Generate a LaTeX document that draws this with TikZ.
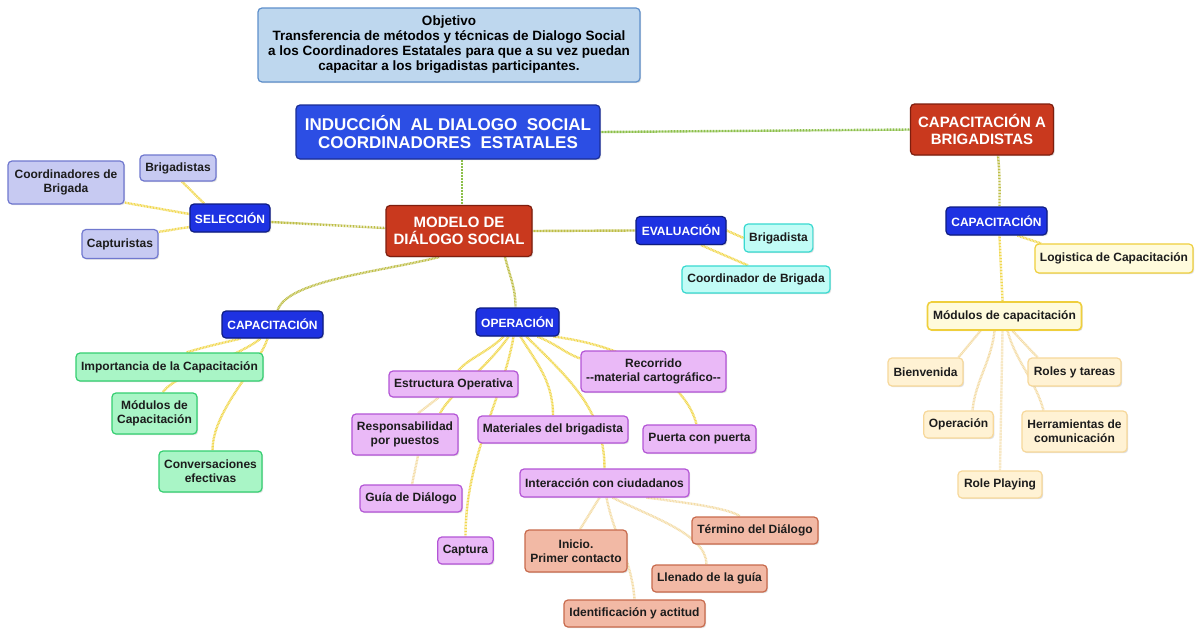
\documentclass[tikz,border=0pt]{standalone}
\usepackage{fontspec}
\setmainfont{Liberation Sans}
\usepackage{xcolor}
\usepackage{tikz}
\usetikzlibrary{shadows}
\definecolor{MapInk}{RGB}{28, 28, 28}
\definecolor{MapGoalFill}{RGB}{190, 215, 238}
\definecolor{MapGoalLine}{RGB}{94, 143, 203}
\definecolor{MapRoot}{RGB}{44, 78, 228}
\definecolor{MapRootLine}{RGB}{26, 45, 150}
\definecolor{MapTopic}{RGB}{30, 50, 226}
\definecolor{MapTopicLine}{RGB}{14, 28, 130}
\definecolor{MapRed}{RGB}{201, 57, 30}
\definecolor{MapRedLine}{RGB}{126, 30, 14}
\definecolor{MapLilaFill}{RGB}{199, 202, 242}
\definecolor{MapLilaLine}{RGB}{112, 120, 207}
\definecolor{MapCyanFill}{RGB}{193, 252, 246}
\definecolor{MapCyanLine}{RGB}{55, 217, 208}
\definecolor{MapGreenFill}{RGB}{169, 245, 198}
\definecolor{MapGreenLine}{RGB}{52, 207, 112}
\definecolor{MapPurpleFill}{RGB}{234, 185, 247}
\definecolor{MapPurpleLine}{RGB}{179, 85, 214}
\definecolor{MapSalmonFill}{RGB}{242, 185, 165}
\definecolor{MapSalmonLine}{RGB}{200, 106, 76}
\definecolor{MapYellowFill}{RGB}{255, 251, 220}
\definecolor{MapYellowLine}{RGB}{239, 207, 60}
\definecolor{MapCreamFill}{RGB}{255, 242, 212}
\definecolor{MapCreamLine}{RGB}{247, 216, 154}
\definecolor{MapGreenLink}{RGB}{140, 192, 74}
\definecolor{MapOliveLink}{RGB}{190, 190, 70}
\definecolor{MapYellowLink}{RGB}{241, 216, 79}
\definecolor{MapTanLink}{RGB}{244, 220, 166}
\pgfdeclarelayer{paper}
\pgfdeclarelayer{links}
\pgfsetlayers{paper,links,main}
\tikzset{
  nodebox/.style={rounded corners=4pt, line width=1.2pt, align=center,
    inner xsep=5pt, inner ysep=3pt, minimum height=27pt, text=MapInk,
    font=\bfseries\fontsize{12}{14}\selectfont,
    drop shadow={shadow xshift=1.2pt, shadow yshift=-1.2pt, opacity=0.25}},
  goalbox/.style={nodebox, fill=MapGoalFill, draw=MapGoalLine, text=black,
    font=\bfseries\fontsize{13.5}{15}\selectfont},
  rootbox/.style={nodebox, fill=MapRoot, draw=MapRootLine, text=white,
    font=\bfseries\fontsize{17}{18.5}\selectfont},
  mainbox/.style={nodebox, fill=MapRed, draw=MapRedLine, text=white,
    font=\bfseries\fontsize{15}{17.5}\selectfont},
  topicbox/.style={nodebox, fill=MapTopic, draw=MapTopicLine, text=white},
  lilabox/.style={nodebox, fill=MapLilaFill, draw=MapLilaLine},
  cyanbox/.style={nodebox, fill=MapCyanFill, draw=MapCyanLine},
  greenbox/.style={nodebox, fill=MapGreenFill, draw=MapGreenLine},
  purplebox/.style={nodebox, fill=MapPurpleFill, draw=MapPurpleLine},
  salmonbox/.style={nodebox, fill=MapSalmonFill, draw=MapSalmonLine},
  yellowbox/.style={nodebox, fill=MapYellowFill, draw=MapYellowLine},
  creambox/.style={nodebox, fill=MapCreamFill, draw=MapCreamLine},
  link/.style={line width=2.4pt, dash pattern=on 0.9pt off 0.6pt}
}

\begin{document}
\begin{tikzpicture}[x=1pt, y=-1pt]
  \begin{pgfonlayer}{paper}
    \fill[white] (0,0) rectangle (1199,629);
  \end{pgfonlayer}
  \useasboundingbox (0,0) rectangle (1199,629);

  \node[goalbox, minimum width=382pt, minimum height=74pt] (objetivo) at (449,45) {Objetivo\\Transferencia de métodos y técnicas de Dialogo Social\\a los Coordinadores Estatales para que a su vez puedan\\capacitar a los brigadistas participantes.};
  \node[rootbox, minimum width=304pt, minimum height=54pt] (induccion) at (448,132) {INDUCCIÓN\ \ AL DIALOGO\ \ SOCIAL\\COORDINADORES\ \ ESTATALES};
  \node[mainbox, minimum width=143pt, minimum height=51pt] (capbrig) at (982,129.5) {CAPACITACIÓN A\\BRIGADISTAS};
  \node[mainbox, minimum width=146pt, minimum height=51pt] (modelo) at (459,231) {MODELO DE\\DIÁLOGO SOCIAL};

  \node[topicbox, minimum width=80pt, minimum height=28pt] (seleccion) at (230,218) {SELECCIÓN};
  \node[lilabox, minimum width=76pt, minimum height=26pt] (brigadistas) at (178,168) {Brigadistas};
  \node[lilabox, minimum width=116pt, minimum height=43pt] (coordinadores) at (66,182.5) {Coordinadores de\\Brigada};
  \node[lilabox, minimum width=76pt, minimum height=29pt] (capturistas) at (120,244) {Capturistas};

  \node[topicbox, minimum width=90pt, minimum height=28pt] (evaluacion) at (681,230.5) {EVALUACIÓN};
  \node[cyanbox, minimum width=68pt, minimum height=28pt] (brigadista) at (778.5,238) {Brigadista};
  \node[cyanbox, minimum width=148pt] (coordinador) at (756,279.5) {Coordinador de Brigada};

  \node[topicbox, minimum width=101pt, minimum height=28pt] (capder) at (996.5,221) {CAPACITACIÓN};
  \node[yellowbox, minimum width=158pt, minimum height=29pt] (logistica) at (1114,258.5) {Logistica de Capacitación};
  \node[yellowbox, line width=1.6pt, minimum width=154pt, minimum height=28pt] (modulos) at (1004.5,316) {Módulos de capacitación};
  \node[creambox, minimum width=75pt, minimum height=28pt] (bienvenida) at (925.5,372) {Bienvenida};
  \node[creambox, minimum width=93pt, minimum height=28pt] (roles) at (1074.5,372) {Roles y tareas};
  \node[creambox, minimum width=69pt] (operacionmod) at (958.5,424.5) {Operación};
  \node[creambox, minimum width=105pt, minimum height=41pt] (herramientas) at (1074.5,431.5) {Herramientas de\\comunicación};
  \node[creambox, minimum width=84pt] (roleplaying) at (1000,484.5) {Role Playing};

  \node[topicbox, minimum width=101pt] (capizq) at (272.5,324.5) {CAPACITACIÓN};
  \node[greenbox, minimum width=187pt, minimum height=28pt] (importancia) at (169.5,367) {Importancia de la Capacitación};
  \node[greenbox, minimum width=85pt, minimum height=41pt] (modcap) at (154.5,413.5) {Módulos de\\Capacitación};
  \node[greenbox, minimum width=103pt, minimum height=41pt] (conversaciones) at (210.5,471.5) {Conversaciones\\efectivas};

  \node[topicbox, minimum width=83pt, minimum height=28pt] (operacion) at (517.5,322) {OPERACIÓN};
  \node[purplebox, minimum width=129pt, minimum height=26pt] (estructura) at (453.5,384) {Estructura Operativa};
  \node[purplebox, minimum width=106pt, minimum height=41pt] (responsabilidad) at (405,434.5) {Responsabilidad\\por puestos};
  \node[purplebox, minimum width=102pt] (guia) at (411,498.5) {Guía de Diálogo};
  \node[purplebox, minimum width=55pt] (captura) at (465.5,550.5) {Captura};
  \node[purplebox, minimum width=150pt] (materiales) at (553,429.5) {Materiales del brigadista};
  \node[purplebox, minimum width=145pt, minimum height=41pt] (recorrido) at (653.5,371.5) {Recorrido\\-{}-material cartográfico-{}-};
  \node[purplebox, minimum width=113pt, minimum height=28pt] (puerta) at (699.5,439) {Puerta con puerta};
  \node[purplebox, minimum width=169pt, minimum height=28pt] (interaccion) at (604.5,483) {Interacción con ciudadanos};

  \node[salmonbox, minimum width=102pt, minimum height=42pt] (inicio) at (576,551) {Inicio.\\Primer contacto};
  \node[salmonbox, minimum width=126pt] (termino) at (755,530.5) {Término del Diálogo};
  \node[salmonbox, minimum width=115pt] (llenado) at (709.5,578.5) {Llenado de la guía};
  \node[salmonbox, minimum width=141pt] (identificacion) at (634.5,613.5) {Identificación y actitud};

  \begin{pgfonlayer}{links}
    \draw[link, MapGreenLink] (induccion.east) -- (capbrig.west);
    \draw[link, MapGreenLink] ([xshift=14pt]induccion.south) -- ([xshift=3pt]modelo.north);
    \draw[link, MapOliveLink] ([yshift=3pt]modelo.west) -- ([yshift=-4pt]seleccion.east);
    \draw[link, MapOliveLink] (modelo.east) -- (evaluacion.west);
    \draw[link, MapOliveLink] ([xshift=-20pt]modelo.south) .. controls +(-60,15) and +(10,-30) .. ([xshift=5pt]capizq.north);
    \draw[link, MapOliveLink] ([xshift=46pt]modelo.south) .. controls +(5,20) and +(0,-20) .. ([xshift=-2pt]operacion.north);
    \draw[link, MapOliveLink] ([xshift=16pt]capbrig.south) .. controls +(2,20) and +(0,-20) .. ([xshift=3pt]capder.north);

    \draw[link, MapYellowLink] ([xshift=-26pt]seleccion.north) -- ([xshift=4pt]brigadistas.south);
    \draw[link, MapYellowLink] ([yshift=4pt]seleccion.west) -- ([yshift=2pt]coordinadores.south east);
    \draw[link, MapYellowLink] ([yshift=-9pt]seleccion.west) -- ([yshift=-3pt]capturistas.north east);

    \draw[link, MapYellowLink] (evaluacion.east) -- (brigadista.west);
    \draw[link, MapYellowLink] ([xshift=20pt]evaluacion.south) -- ([xshift=-8pt]coordinador.north);

    \draw[link, MapYellowLink] ([xshift=21pt]capder.south) -- ([xshift=-73pt]logistica.north);
    \draw[link, MapYellowLink] ([xshift=3pt]capder.south) -- ([xshift=-2pt]modulos.north);
    \draw[link, MapTanLink] ([xshift=-24pt]modulos.south) -- ([xshift=33pt]bienvenida.north);
    \draw[link, MapTanLink] ([xshift=-10pt]modulos.south) .. controls +(-3,30) and +(3,-30) .. ([xshift=14pt]operacionmod.north);
    \draw[link, MapTanLink] ([xshift=-2pt]modulos.south) -- (roleplaying.north);
    \draw[link, MapTanLink] ([xshift=3pt]modulos.south) .. controls +(8,30) and +(-8,-30) .. ([xshift=-31pt]herramientas.north);
    \draw[link, MapTanLink] ([xshift=8pt]modulos.south) -- ([xshift=-37pt]roles.north);

    \draw[link, MapYellowLink] ([xshift=-32pt]capizq.south) .. controls +(-25,6) and +(20,-6) .. ([xshift=17pt]importancia.north);
    \draw[link, MapYellowLink] ([xshift=-12pt]capizq.south) .. controls +(-25,20) and +(15,-20) .. ([xshift=8pt]modcap.north);
    \draw[link, MapYellowLink] ([xshift=-5pt]capizq.south) .. controls +(-10,30) and +(0,-40) .. ([xshift=2pt]conversaciones.north);

    \draw[link, MapYellowLink] ([xshift=-14pt]operacion.south) .. controls +(-15,15) and +(10,-12) .. ([xshift=5pt]estructura.north);
    \draw[link, MapYellowLink] ([xshift=-9pt]operacion.south) .. controls +(-20,30) and +(10,-20) .. ([xshift=35pt]responsabilidad.north);
    \draw[link, MapYellowLink] ([xshift=-4pt]operacion.south) .. controls +(-10,60) and +(0,-80) .. (captura.north);
    \draw[link, MapYellowLink] ([xshift=3pt]operacion.south) .. controls +(15,25) and +(0,-35) .. (materiales.north);
    \draw[link, MapYellowLink] ([xshift=9pt]operacion.south) .. controls +(40,40) and +(0,-60) .. (interaccion.north);
    \draw[link, MapYellowLink] ([xshift=20pt]operacion.south) .. controls +(20,8) and +(-15,-5) .. ([yshift=13pt]recorrido.west);
    \draw[link, MapYellowLink] ([xshift=36pt]operacion.south) .. controls +(80,10) and +(-10,-40) .. ([xshift=-3pt]puerta.north);
    \draw[link, MapTanLink] ([xshift=-15pt]estructura.south) -- ([xshift=13pt]responsabilidad.north);
    \draw[link, MapTanLink] ([xshift=13pt]responsabilidad.south) -- ([xshift=1pt]guia.north);

    \draw[link, MapTanLink] ([xshift=-5pt]interaccion.south) -- ([xshift=4pt]inicio.north);
    \draw[link, MapTanLink] ([xshift=2pt]interaccion.south) .. controls +(8,40) and +(-3,-40) .. (identificacion.north);
    \draw[link, MapTanLink] ([xshift=8pt]interaccion.south) .. controls +(40,20) and +(0,-30) .. ([xshift=-3pt]llenado.north);
    \draw[link, MapTanLink] ([xshift=42pt]interaccion.south) .. controls +(40,5) and +(-10,-8) .. ([xshift=-15pt]termino.north);
  \end{pgfonlayer}
\end{tikzpicture}
\end{document}
